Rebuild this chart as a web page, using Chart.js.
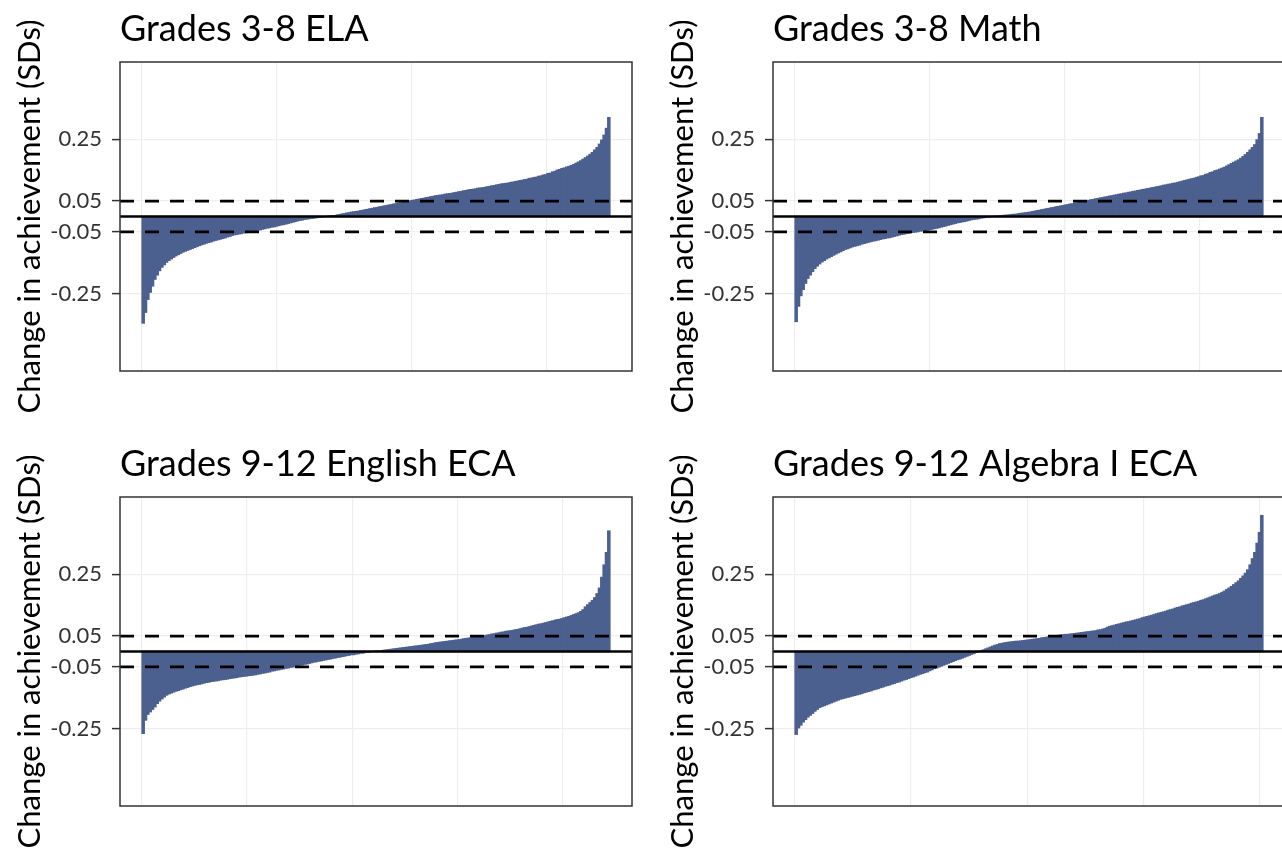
<!DOCTYPE html>
<html>
<head>
<meta charset="utf-8">
<script src="https://cdn.jsdelivr.net/npm/chart.js@4.4.1/dist/chart.umd.min.js"></script>
<style>
  html, body { margin: 0; padding: 0; background: #ffffff; overflow: hidden; width: 1282px; height: 849px; }
  .panel { position: absolute; width: 653px; height: 435px; }
</style>
</head>
<body>
<div class="panel" style="left:0px;top:0px"><canvas id="ela" width="653" height="435"></canvas></div>
<div class="panel" style="left:653px;top:0px"><canvas id="math" width="653" height="435"></canvas></div>
<div class="panel" style="left:0px;top:435px"><canvas id="english" width="653" height="435"></canvas></div>
<div class="panel" style="left:653px;top:435px"><canvas id="algebra" width="653" height="435"></canvas></div>
<script>
// Per-school change in achievement (SD units), schools sorted from lowest to highest
const elaChange = [
  -0.345,-0.310,-0.268,-0.245,-0.225,-0.203,-0.189,-0.175,-0.164,-0.156,
  -0.148,-0.142,-0.137,-0.132,-0.127,-0.123,-0.119,-0.115,-0.112,-0.109,
  -0.106,-0.103,-0.100,-0.097,-0.094,-0.091,-0.089,-0.086,-0.084,-0.082,
  -0.079,-0.077,-0.075,-0.073,-0.071,-0.069,-0.066,-0.064,-0.061,-0.059,
  -0.058,-0.056,-0.055,-0.053,-0.052,-0.050,-0.049,-0.047,-0.046,-0.044,
  -0.043,-0.041,-0.039,-0.037,-0.036,-0.034,-0.033,-0.031,-0.029,-0.027,
  -0.026,-0.024,-0.022,-0.020,-0.018,-0.016,-0.014,-0.012,-0.011,-0.009,
  -0.008,-0.007,-0.006,-0.005,-0.004,-0.003,-0.002,-0.001,0.000,0.001,
  0.002,0.003,0.003,0.005,0.006,0.008,0.009,0.011,0.012,0.014,
  0.015,0.016,0.017,0.019,0.020,0.022,0.023,0.025,0.026,0.028,
  0.029,0.031,0.032,0.034,0.035,0.037,0.038,0.040,0.041,0.043,
  0.044,0.046,0.047,0.049,0.050,0.052,0.053,0.055,0.056,0.058,
  0.059,0.061,0.062,0.064,0.065,0.067,0.068,0.069,0.070,0.072,
  0.073,0.074,0.075,0.077,0.078,0.080,0.081,0.083,0.084,0.086,
  0.087,0.088,0.089,0.091,0.092,0.093,0.094,0.096,0.097,0.099,
  0.100,0.102,0.103,0.105,0.106,0.107,0.108,0.110,0.111,0.113,
  0.114,0.116,0.117,0.119,0.120,0.123,0.124,0.126,0.127,0.130,
  0.131,0.134,0.135,0.139,0.140,0.144,0.146,0.150,0.152,0.155,
  0.157,0.160,0.162,0.165,0.168,0.172,0.176,0.180,0.185,0.190,
  0.195,0.201,0.207,0.215,0.223,0.234,0.247,0.263,0.285,0.320
];
const mathChange = [
  -0.340,-0.290,-0.256,-0.236,-0.216,-0.200,-0.189,-0.178,-0.168,-0.160,
  -0.153,-0.147,-0.142,-0.137,-0.133,-0.129,-0.125,-0.121,-0.117,-0.114,
  -0.110,-0.106,-0.104,-0.101,-0.098,-0.096,-0.094,-0.092,-0.089,-0.087,
  -0.085,-0.083,-0.081,-0.079,-0.078,-0.076,-0.074,-0.072,-0.071,-0.069,
  -0.068,-0.066,-0.064,-0.062,-0.060,-0.058,-0.057,-0.055,-0.054,-0.052,
  -0.051,-0.050,-0.049,-0.047,-0.046,-0.045,-0.044,-0.042,-0.041,-0.039,
  -0.038,-0.036,-0.034,-0.032,-0.030,-0.028,-0.026,-0.024,-0.022,-0.020,
  -0.019,-0.017,-0.016,-0.014,-0.012,-0.010,-0.009,-0.008,-0.007,-0.005,
  -0.004,-0.003,-0.002,-0.001,0.000,0.001,0.001,0.002,0.003,0.004,
  0.004,0.005,0.006,0.007,0.007,0.009,0.010,0.011,0.012,0.013,
  0.014,0.016,0.017,0.019,0.020,0.022,0.023,0.025,0.026,0.028,
  0.029,0.031,0.032,0.034,0.035,0.037,0.038,0.040,0.041,0.043,
  0.044,0.046,0.047,0.049,0.050,0.052,0.054,0.055,0.057,0.058,
  0.060,0.061,0.063,0.064,0.066,0.067,0.069,0.070,0.072,0.073,
  0.075,0.076,0.078,0.079,0.081,0.082,0.084,0.085,0.087,0.088,
  0.090,0.091,0.093,0.094,0.096,0.097,0.099,0.101,0.102,0.104,
  0.105,0.107,0.108,0.110,0.112,0.114,0.116,0.118,0.120,0.122,
  0.123,0.126,0.128,0.131,0.132,0.136,0.138,0.142,0.144,0.148,
  0.150,0.153,0.156,0.159,0.163,0.167,0.171,0.175,0.179,0.183,
  0.188,0.194,0.200,0.207,0.215,0.223,0.232,0.248,0.268,0.320
];
const englishChange = [
  -0.265,-0.222,-0.203,-0.195,-0.187,-0.179,-0.168,-0.160,-0.153,-0.147,
  -0.141,-0.137,-0.134,-0.131,-0.128,-0.126,-0.123,-0.121,-0.118,-0.116,
  -0.113,-0.111,-0.109,-0.107,-0.106,-0.104,-0.102,-0.100,-0.099,-0.097,
  -0.096,-0.095,-0.094,-0.092,-0.091,-0.090,-0.089,-0.087,-0.086,-0.085,
  -0.084,-0.082,-0.081,-0.080,-0.079,-0.078,-0.077,-0.076,-0.075,-0.073,
  -0.072,-0.070,-0.069,-0.067,-0.066,-0.063,-0.062,-0.060,-0.059,-0.057,
  -0.056,-0.054,-0.053,-0.051,-0.050,-0.047,-0.046,-0.044,-0.043,-0.041,
  -0.040,-0.038,-0.036,-0.034,-0.033,-0.031,-0.030,-0.028,-0.027,-0.025,
  -0.024,-0.022,-0.021,-0.019,-0.018,-0.016,-0.015,-0.013,-0.012,-0.010,
  -0.010,-0.008,-0.007,-0.005,-0.005,-0.003,-0.002,-0.001,0.000,0.001,
  0.001,0.002,0.003,0.004,0.005,0.006,0.007,0.008,0.009,0.010,
  0.011,0.012,0.013,0.014,0.015,0.016,0.017,0.018,0.019,0.020,
  0.021,0.022,0.023,0.025,0.026,0.028,0.029,0.030,0.031,0.032,
  0.033,0.034,0.035,0.036,0.037,0.038,0.039,0.041,0.042,0.043,
  0.044,0.045,0.046,0.048,0.049,0.050,0.051,0.053,0.054,0.056,
  0.057,0.059,0.060,0.062,0.063,0.065,0.066,0.067,0.068,0.070,
  0.071,0.073,0.075,0.077,0.078,0.080,0.082,0.084,0.086,0.088,
  0.089,0.091,0.093,0.095,0.097,0.099,0.101,0.103,0.104,0.106,
  0.109,0.111,0.113,0.116,0.119,0.122,0.125,0.129,0.135,0.144,
  0.151,0.158,0.165,0.174,0.187,0.205,0.240,0.280,0.320,0.390
];
const algebraChange = [
  -0.268,-0.247,-0.238,-0.228,-0.220,-0.212,-0.206,-0.200,-0.193,-0.187,
  -0.181,-0.178,-0.175,-0.172,-0.169,-0.166,-0.163,-0.160,-0.157,-0.154,
  -0.152,-0.150,-0.148,-0.146,-0.144,-0.142,-0.140,-0.138,-0.136,-0.133,
  -0.131,-0.129,-0.127,-0.124,-0.122,-0.120,-0.117,-0.115,-0.112,-0.110,
  -0.108,-0.105,-0.103,-0.100,-0.098,-0.095,-0.092,-0.090,-0.087,-0.084,
  -0.082,-0.079,-0.076,-0.073,-0.071,-0.068,-0.066,-0.062,-0.059,-0.055,
  -0.053,-0.050,-0.047,-0.044,-0.041,-0.038,-0.035,-0.032,-0.029,-0.026,
  -0.024,-0.021,-0.018,-0.015,-0.012,-0.009,-0.006,-0.003,0.000,0.002,
  0.005,0.008,0.011,0.014,0.017,0.020,0.022,0.025,0.026,0.028,
  0.029,0.030,0.031,0.032,0.033,0.033,0.034,0.035,0.036,0.037,
  0.038,0.039,0.040,0.041,0.042,0.044,0.045,0.046,0.047,0.049,
  0.050,0.051,0.052,0.053,0.054,0.055,0.055,0.056,0.057,0.058,
  0.059,0.060,0.061,0.062,0.063,0.064,0.065,0.066,0.067,0.069,
  0.070,0.072,0.074,0.078,0.081,0.083,0.085,0.087,0.089,0.091,
  0.093,0.095,0.096,0.098,0.100,0.102,0.104,0.106,0.109,0.111,
  0.113,0.115,0.117,0.119,0.122,0.124,0.126,0.128,0.130,0.133,
  0.135,0.137,0.140,0.142,0.144,0.147,0.149,0.151,0.153,0.156,
  0.158,0.160,0.162,0.165,0.167,0.170,0.173,0.176,0.179,0.182,
  0.184,0.187,0.191,0.195,0.200,0.205,0.210,0.216,0.222,0.228,
  0.236,0.244,0.253,0.264,0.280,0.300,0.320,0.350,0.385,0.440
];

const panelTitles = ['Grades 3-8 ELA', 'Grades 3-8 Math', 'Grades 9-12 English ECA', 'Grades 9-12 Algebra I ECA'];
const yTickValues = [0.25, 0.05, -0.05, -0.25];
const yTickLabels = ['0.25', '0.05', '-0.05', '-0.25'];
const thresholdValues = [0.05, -0.05];
const axisTitle = 'Change in achievement (SDs)';

// styling
const BAR_COLOR = '#4c6090';
const GRID_COLOR = '#eeeeee';
const FONT = 'Lato';

// frame, reference lines and panel heading
const panelDecor = {
  id: 'panelDecor',
  afterDatasetsDraw(chart, args, opts) {
    const { ctx, chartArea: a, scales: { y } } = chart;
    ctx.save();
    ctx.strokeStyle = '#000000';
    ctx.lineWidth = 2.8;
    ctx.setLineDash([14, 11]);
    thresholdValues.forEach(v => {
      const py = y.getPixelForValue(v);
      ctx.beginPath();
      ctx.moveTo(a.left, py);
      ctx.lineTo(a.right, py);
      ctx.stroke();
    });
    ctx.setLineDash([]);
    ctx.lineWidth = 2.6;
    const p0 = y.getPixelForValue(0);
    ctx.beginPath();
    ctx.moveTo(a.left, p0);
    ctx.lineTo(a.right, p0);
    ctx.stroke();

    ctx.strokeStyle = '#333333';
    ctx.lineWidth = 1.5;
    ctx.strokeRect(a.left, a.top, a.right - a.left, a.bottom - a.top);

    ctx.fillStyle = '#000000';
    ctx.font = `36px ${FONT}`;
    ctx.textAlign = 'left';
    ctx.textBaseline = 'alphabetic';
    ctx.fillText(opts.title, a.left, 41);
    ctx.restore();
  }
};

const panels = [
  { id: 'ela', title: panelTitles[0], values: elaChange, vgrid: [-0.5, 57.2, 114.9, 172.6] },
  { id: 'math', title: panelTitles[1], values: mathChange, vgrid: [-0.5, 57.2, 114.9, 172.6] },
  { id: 'english', title: panelTitles[2], values: englishChange, vgrid: [-0.5, 44.4, 89.3, 134.2, 179.1] },
  { id: 'algebra', title: panelTitles[3], values: algebraChange, vgrid: [-0.5, 49.1, 98.7, 148.3, 197.9] }
];

function draw() {
  panels.forEach(p => {
    new Chart(document.getElementById(p.id), {
      type: 'bar',
      data: {
        datasets: [{
          data: p.values.map((v, i) => ({ x: i, y: v })),
          backgroundColor: BAR_COLOR,
          borderWidth: 0,
          inflateAmount: 0.6,
          barPercentage: 1,
          categoryPercentage: 1
        }]
      },
      options: {
        responsive: false,
        animation: false,
        layout: { padding: { top: 62, right: 21, bottom: 64, left: 0 } },
        plugins: {
          legend: { display: false },
          tooltip: { enabled: false },
          panelDecor: { title: p.title }
        },
        scales: {
          x: {
            type: 'linear',
            min: -9.9,
            max: 208.9,
            offset: false,
            ticks: { display: false },
            grid: { color: GRID_COLOR, drawTicks: false, offset: false, lineWidth: 1.2 },
            border: { display: false },
            afterBuildTicks: s => { s.ticks = p.vgrid.map(v => ({ value: v })); },
            afterFit: s => { s.height = 0; }
          },
          y: {
            min: -0.5,
            max: 0.5,
            afterBuildTicks: s => { s.ticks = yTickValues.map(v => ({ value: v })); },
            ticks: {
              autoSkip: false,
              callback: v => yTickLabels[yTickValues.indexOf(v)],
              font: { family: FONT, size: 22 },
              color: '#333333',
              padding: 10
            },
            grid: { color: GRID_COLOR, tickColor: '#333333', tickLength: 8, tickWidth: 1.5, lineWidth: 1.2 },
            border: { display: false },
            title: {
              display: true,
              text: axisTitle,
              font: { family: FONT, size: 31 },
              color: '#000000',
              padding: { top: 11, bottom: 0 }
            },
            afterFit: s => { s.width = 120; }
          }
        }
      },
      plugins: [panelDecor]
    });
  });
}

Promise.all([
  document.fonts.load(`36px ${FONT}`),
  document.fonts.load(`22px ${FONT}`)
]).then(draw, draw);
</script>
</body>
</html>
